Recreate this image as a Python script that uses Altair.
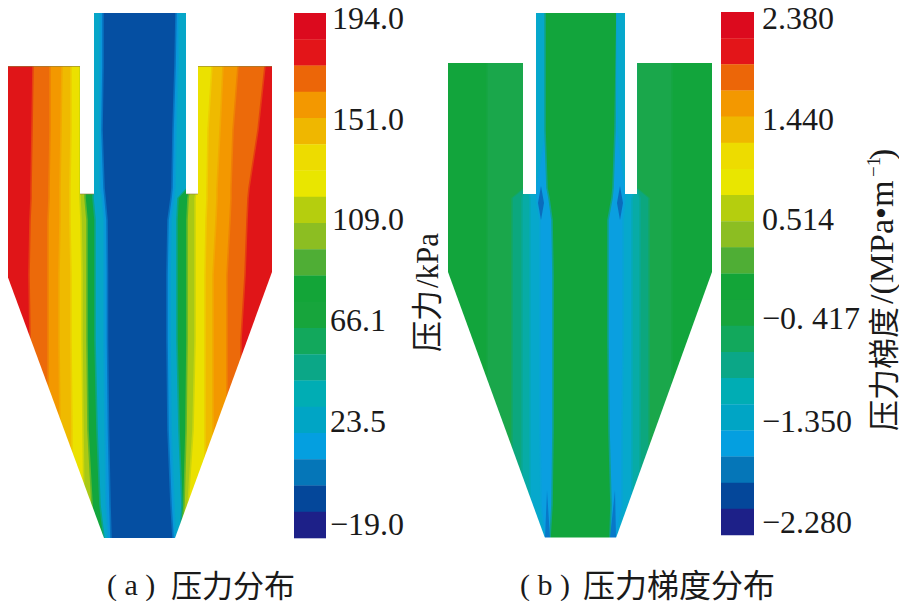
import altair as alt
import pandas as pd

# Contour levels along the vessel height (shared by both panels)
LEVELS = [13, 66, 130, 188, 198, 220, 275, 340, 430, 505, 538]

# Panel (a): pressure bands, left to right, edges read per level
A_COLORS = ["#E01518", "#EC6A0A", "#F39800", "#EFBA00", "#EBE100", "#A8C916", "#12A63E", "#06A6C8", "#0A96DC", "#054FA2",
            "#0A96DC", "#06A6C8", "#12A63E", "#A8C916", "#EBE100", "#EFBA00", "#F39800", "#EC6A0A", "#E01518"]
A_EDGES = [
    [6, 6, 6, 6, 6, 6, 6, 6, 6, 6, 6],
    [33, 33, 32, 31, 31, 30, 29, 30, 30, 30, 30],
    [50, 50, 50, 49, 49, 48, 48, 48, 48, 48, 48],
    [62, 62, 61, 60, 60, 60, 59, 59, 60, 60, 60],
    [71, 71, 71, 70, 70, 70, 71, 71, 72, 72, 72],
    [80, 80, 80, 80, 80, 81, 82, 82, 83, 84, 84],
    [85, 85, 85, 85, 85, 87, 87, 87, 88, 92, 95],
    [93, 93, 93, 93, 93, 95, 95, 95, 97, 100, 104],
    [100, 100, 100, 100, 102, 104, 104, 104, 105, 106, 108],
    [103, 103, 102, 104, 105, 107, 107.5, 107.5, 108.5, 110, 111],
    [176, 175, 173, 172, 171, 168, 167, 167, 168, 171, 173],
    [179, 178, 176, 175, 174, 171, 170, 170, 171, 174, 175],
    [187, 187, 187, 187, 178, 177, 177, 177, 179, 182, 180],
    [190, 190, 190, 190, 188, 187, 187, 187, 186, 184, 181],
    [197, 197, 197, 197, 195, 195, 195, 195, 193, 188, 184],
    [212, 212, 208, 207, 207, 206, 205, 205, 205, 205, 205],
    [223, 223, 220, 217, 217, 216, 213, 213, 213, 213, 213],
    [238, 238, 233, 231, 231, 230, 227, 227, 227, 227, 227],
    [265, 265, 258, 249, 248, 247, 245, 241, 241, 241, 241],
]
A_RIGHT = 272

# Panel (b): pressure-gradient bands
B_COLORS = ["#12A53C", "#1AA74B", "#0CA77E", "#07ABA6", "#06A8CC", "#0A9FE0", "#12A53C",
            "#0A9FE0", "#06A8CC", "#07ABA6", "#0CA77E", "#1AA74B", "#12A53C"]
B_EDGES = [
    [448, 448, 448, 448, 448, 448, 448, 448, 448, 448, 448],
    [487, 487, 487, 487, 487, 487, 487, 487, 487, 487, 487],
    [524, 524, 524, 524, 512, 512, 512, 512, 512, 512, 512],
    [525, 525, 525, 525, 522, 522, 522, 522, 522, 522, 522],
    [528, 528, 528, 528, 530, 530, 530, 530, 530, 530, 530],
    [546, 546, 546, 536, 536, 540, 540, 540, 540, 541, 545],
    [545, 545, 545, 547, 549, 552, 553, 553, 553, 552, 550],
    [617, 616, 615, 613, 612, 608, 608, 608, 609, 611, 610],
    [617, 617, 617, 625, 625, 623, 623, 623, 622, 622, 616],
    [636, 636, 636, 636, 632, 632, 632, 632, 632, 632, 632],
    [636.5, 636.5, 636.5, 636.5, 640, 640, 640, 640, 640, 640, 640],
    [637, 637, 637, 637, 649, 649, 649, 649, 649, 649, 649],
    [672, 672, 672, 672, 672, 672, 672, 672, 672, 672, 672],
]
B_RIGHT = 712

# Dark pockets in panel (b): y, left, right
POCKET_Y = [[186, 203, 220], [186, 203, 220], [490, 538], [490, 538]]
POCKET_L = [[541, 538, 541], [620, 617, 620], [547, 545], [615, 610]]
POCKET_R = [[541, 544, 541], [620, 623, 620], [547, 550], [615, 616]]
POCKET_C = ["#0A6CBC", "#0A6CBC", "#0878C8", "#0878C8"]

# White outside of each vessel: x, x2, y, y2
MASK_X = [0, 186, 94, 80, 186, 0, 440, 625, 536, 523, 625, 440]
MASK_X2 = [94, 285, 186, 94, 198, 285, 536, 716, 625, 536, 637, 716]
MASK_Y = [0, 0, 0, 66, 66, 538, 0, 0, 0, 63, 63, 537.5]
MASK_Y2 = [66, 66, 13, 194, 194, 550, 63, 63, 13, 194, 194, 550]

# Olive wall lines of panel (a): x, x2, y, y2
WALL_X = [6, 198, 80, 186]
WALL_X2 = [80, 272, 94, 198]
WALL_Y = [66, 66, 193.5, 193.5]
WALL_Y2 = [67, 67, 194.5, 194.5]

# Funnel walls
CONE_Y = [272, 538]
CONE_A_L = [6, 104]
CONE_A_R = [272, 175]
CONE_B_L = [448, 545]
CONE_B_R = [712, 616]

# Colour bars
BAR_COLORS = ["#DC0A1E", "#E31519", "#EC6608", "#F39800", "#EFB700", "#EDDC00", "#E9E600", "#B5CE0E", "#8CBE22", "#4FAE35",
              "#13A538", "#17A53C", "#12A85C", "#0BA787", "#00ADB4", "#00A5C5", "#049FE0", "#0576B8", "#04479A", "#1D2088"]
BAR_A = (294, 326, 13, 538)
BAR_B = (721, 754, 12, 535)

# Text
TICKS_A = ["194.0", "151.0", "109.0", "66.1", "23.5", "\u221219.0"]
TICKS_A_X = [332, 332, 332, 330, 330, 330]
TICKS_A_Y = [29, 130, 230, 331, 432, 535]
TICKS_B = ["2.380", "1.440", "0.514", "\u22120. 417", "\u22121.350", "\u22122.280"]
TICKS_B_X = [762] * 6
TICKS_B_Y = [29, 130, 230, 329, 432, 533]

SERIF = "Liberation Serif"
CJK = "Noto Sans CJK SC"

X = alt.X("x:Q", scale=alt.Scale(domain=[8, 899], zero=False, nice=False), axis=None, title=None)
Y = alt.Y("y:Q", scale=alt.Scale(domain=[601, 8], zero=False, nice=False), axis=None, title=None)


def area(ys, lefts, rights, color):
    df = pd.DataFrame({"y": ys, "x": lefts, "x2": rights})
    return alt.Chart(df).mark_area(orient="horizontal", color=color, strokeWidth=0).encode(x=X, x2="x2:Q", y=Y)


def mix(a, b):
    pa = [int(a[i:i + 2], 16) for i in (1, 3, 5)]
    pb = [int(b[i:i + 2], 16) for i in (1, 3, 5)]
    return "#" + "".join(f"{(p + q) // 2:02X}" for p, q in zip(pa, pb))


layers = []
for edges, colors, right in [(A_EDGES, A_COLORS, A_RIGHT), (B_EDGES, B_COLORS, B_RIGHT)]:
    for i, (edge, color) in enumerate(zip(edges, colors)):
        if i:
            layers.append(area(LEVELS, [e - 0.8 for e in edge], [right] * len(LEVELS), mix(colors[i - 1], color)))
            edge = [e + 0.8 for e in edge]
        layers.append(area(LEVELS, edge, [right] * len(LEVELS), color))

for ys, ls, rs, c in zip(POCKET_Y, POCKET_L, POCKET_R, POCKET_C):
    layers.append(area(ys, ls, rs, c))

# masks
layers.append(area(CONE_Y, [0, 0], CONE_A_L, "white"))
layers.append(area(CONE_Y, CONE_A_R, [285, 285], "white"))
layers.append(area(CONE_Y, [440, 440], CONE_B_L, "white"))
layers.append(area(CONE_Y, CONE_B_R, [716, 716], "white"))
mask = pd.DataFrame({"x": MASK_X, "x2": MASK_X2, "y": MASK_Y, "y2": MASK_Y2})
layers.append(alt.Chart(mask).mark_rect(color="white", strokeWidth=0).encode(x=X, x2="x2:Q", y=Y, y2="y2:Q"))
wall = pd.DataFrame({"x": WALL_X, "x2": WALL_X2, "y": WALL_Y, "y2": WALL_Y2})
layers.append(alt.Chart(wall).mark_rect(color="#8F7F38", opacity=0.6, strokeWidth=0).encode(
    x=X, x2="x2:Q", y=Y, y2="y2:Q"))

# colour bars
for (x0, x1, y0, y1) in [BAR_A, BAR_B]:
    n = len(BAR_COLORS)
    step = (y1 - y0) / n
    bar = pd.DataFrame({
        "x": [x0] * n, "x2": [x1] * n,
        "y": [y0 + i * step for i in range(n)],
        "y2": [y0 + (i + 1) * step + 0.3 for i in range(n)],
        "c": BAR_COLORS,
    })
    layers.append(alt.Chart(bar).mark_rect(strokeWidth=0).encode(
        x=X, x2="x2:Q", y=Y, y2="y2:Q", color=alt.Color("c:N", scale=None)))


def text(xs, ys, labels, font, size, angle=0, color="#1a1a1a", align="left"):
    df = pd.DataFrame({"x": xs, "y": ys, "t": labels})
    return alt.Chart(df).mark_text(font=font, fontSize=size, angle=angle, align=align, baseline="alphabetic",
                                   color=color).encode(x=X, y=Y, text="t:N")


layers.append(text(TICKS_A_X, TICKS_A_Y, TICKS_A, SERIF, 32))
layers.append(text(TICKS_B_X, TICKS_B_Y, TICKS_B, SERIF, 32))

# Rotated axis titles
layers.append(text([438], [352], ["压力"], CJK, 31, angle=270))
layers.append(text([438], [288], ["/kPa"], SERIF, 31, angle=270))
layers.append(text([895], [431], ["压力梯度"], CJK, 31, angle=270))
layers.append(text([893], [304], ["/(MPa\u2022m"], SERIF, 34, angle=270))
layers.append(text([880], [177], ["\u22121"], SERIF, 19, angle=270))
layers.append(text([893], [160], [")"], SERIF, 34, angle=270))

# Captions
layers.append(text([107], [595], ["( a )"], SERIF, 30))
layers.append(text([171], [597], ["压力分布"], CJK, 31))
layers.append(text([520], [595], ["( b )"], SERIF, 30))
layers.append(text([583], [597], ["压力梯度分布"], CJK, 32))

chart = alt.layer(*layers).properties(
    width=891, height=593, padding=0, autosize=alt.AutoSizeParams(type="none"), background="white",
).configure_view(stroke=None)

chart.save("out.html", embed_options={"renderer": "svg", "actions": False})
